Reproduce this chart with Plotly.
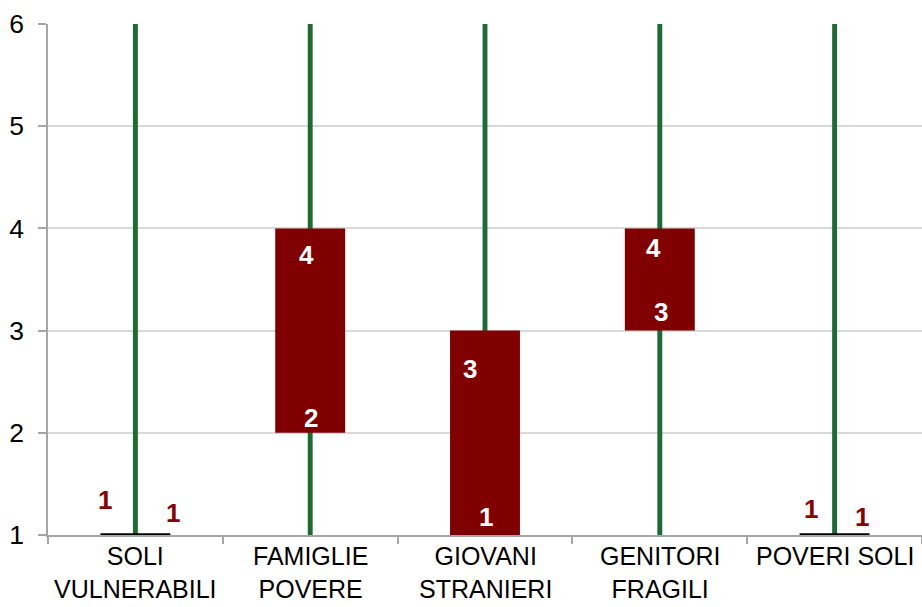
import plotly.graph_objects as go

categories = ["SOLI<br>VULNERABILI", "FAMIGLIE<br>POVERE", "GIOVANI<br>STRANIERI", "GENITORI<br>FRAGILI", "POVERI SOLI"]
low_vals = [1, 1, 1, 1, 1]
high_vals = [6, 6, 6, 6, 6]
open_vals = [1, 2, 1, 3, 1]
close_vals = [1, 4, 3, 4, 1]

# label pixel offsets (style): (dx, dy) for open label and close label
open_off = [(-30, 35), (1, 15), (1, 18), (1, 19), (-24, 26)]
close_off = [(38, 22), (-4, -27), (-15, -38), (-6, -20), (27, 18)]

GREEN = "#1b6b33"
RED = "#800000"
FONT = "Liberation Sans, Arial"
xs = list(range(len(categories)))

fig = go.Figure()
# high-low lines
fig.add_trace(go.Bar(x=xs, y=[h - l for h, l in zip(high_vals, low_vals)], base=low_vals,
                     width=0.028, marker=dict(color=GREEN, line=dict(width=0)), hoverinfo="skip"))
# bodies
bx, by, bb = [], [], []
for i, (o, c) in enumerate(zip(open_vals, close_vals)):
    if o != c:
        bx.append(i); by.append(abs(c - o)); bb.append(min(o, c))
fig.add_trace(go.Bar(x=bx, y=by, base=bb, width=0.4,
                     marker=dict(color=RED, line=dict(width=0)), hoverinfo="skip"))
# doji lines
dx, dy = [], []
for i, (o, c) in enumerate(zip(open_vals, close_vals)):
    if o == c:
        dx += [i - 0.2, i + 0.2, None]; dy += [o, o, None]
fig.add_trace(go.Scatter(x=dx, y=dy, mode="lines", line=dict(color="black", width=3.5),
                         hoverinfo="skip", cliponaxis=False))

for i, (o, c) in enumerate(zip(open_vals, close_vals)):
    lbl_color = "#8b0000" if o == c else "white"
    for v, off in ((o, open_off[i]), (c, close_off[i])):
        fig.add_annotation(x=i, y=v, text=str(v), showarrow=False, xshift=off[0], yshift=off[1],
                           font=dict(family=FONT, size=26, color=lbl_color, weight="bold"))

# category labels
for i, lab in enumerate(categories):
    fig.add_annotation(x=i, xref="x", y=0, yref="paper", text=lab, showarrow=False,
                       yanchor="top", yshift=-6, borderpad=0,
                       font=dict(family=FONT, size=25, color="black"))

fig.update_layout(
    width=922, height=607, showlegend=False, barmode="overlay",
    plot_bgcolor="white", paper_bgcolor="white",
    margin=dict(l=48, r=0, t=24, b=72),
    font=dict(family=FONT, size=26, color="black"),
)
fig.update_xaxes(range=[-0.5, 4.5], tickmode="array", tickvals=xs, showticklabels=False,
                 ticks="", showgrid=False, zeroline=False, showline=True, linecolor="#a6a6a6",
                 linewidth=1.5, automargin=False, layer="below traces",
                 minor=dict(tickmode="array", tickvals=[x - 0.5 for x in range(len(categories) + 1)],
                            ticks="outside", ticklen=7, tickcolor="#a6a6a6", tickwidth=1.5, showgrid=False))
fig.update_yaxes(range=[1, 6], dtick=1, showgrid=True, gridcolor="#d9d9d9", gridwidth=1.5,
                 zeroline=False, showline=True, linecolor="#a6a6a6", linewidth=1.5,
                 ticks="outside", ticklen=8, tickcolor="#a6a6a6", tickwidth=1.5, automargin=False,
                 layer="below traces", tickfont=dict(size=26.5), ticklabelstandoff=9)

fig.write_html("out.html")
